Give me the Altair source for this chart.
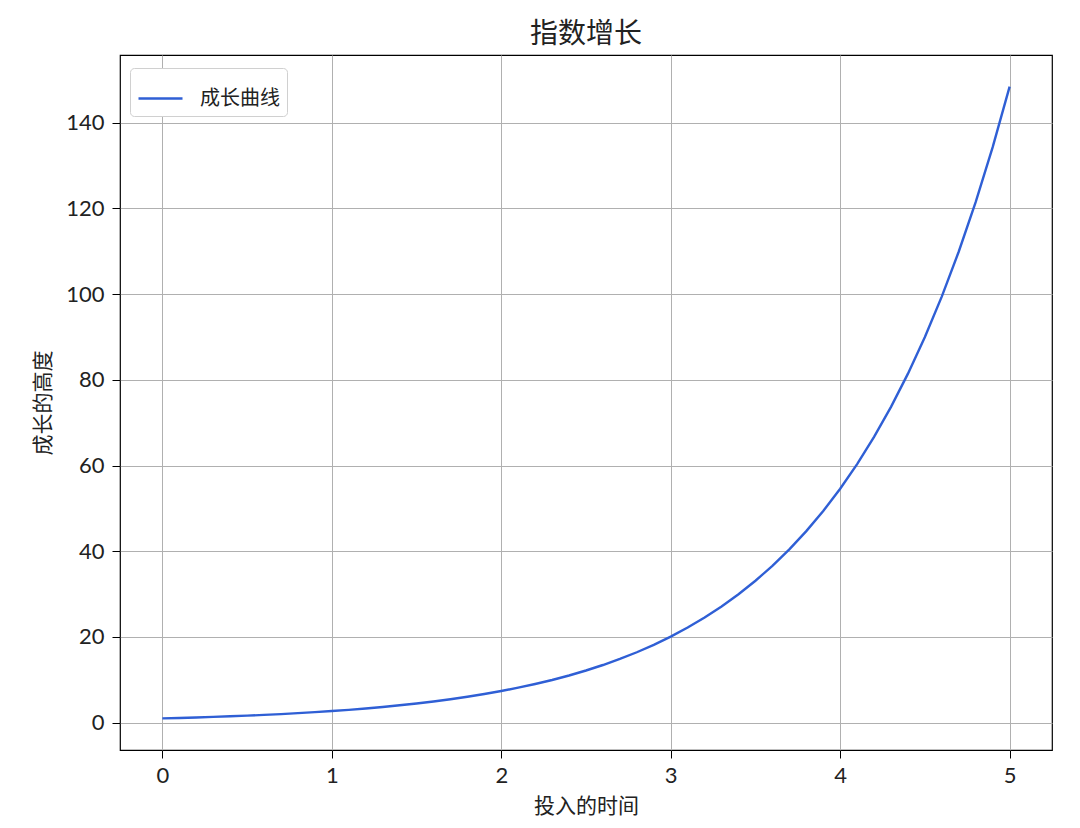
import altair as alt
import pandas as pd

# values
time_values = [round(0.1 * i, 1) for i in range(51)]
height_values = [1.00, 1.11, 1.22, 1.35, 1.49, 1.65, 1.82, 2.01, 2.23, 2.46,
                 2.72, 3.00, 3.32, 3.67, 4.06, 4.48, 4.95, 5.47, 6.05, 6.69,
                 7.39, 8.17, 9.03, 9.97, 11.02, 12.18, 13.46, 14.88, 16.44, 18.17,
                 20.09, 22.20, 24.53, 27.11, 29.96, 33.12, 36.60, 40.45, 44.70, 49.40,
                 54.60, 60.34, 66.69, 73.70, 81.45, 90.02, 99.48, 109.95, 121.51, 134.29,
                 148.41]
series_name = "成长曲线"
x_ticks = [0, 1, 2, 3, 4, 5]
y_ticks = [0, 20, 40, 60, 80, 100, 120, 140]

df = pd.DataFrame({"t": time_values, "h": height_values, "s": series_name})

FONT = "Noto Sans CJK SC"
NUM_FONT = "Lato"

chart = alt.Chart(df).mark_line(strokeWidth=2.4).encode(
    x=alt.X("t:Q", scale=alt.Scale(domain=[-0.25, 5.25], nice=False, zero=False),
            axis=alt.Axis(values=x_ticks, title="投入的时间", format="d",
                          labelPadding=7, titlePadding=9)),
    y=alt.Y("h:Q", scale=alt.Scale(domain=[-6.37, 155.8], nice=False, zero=False),
            axis=alt.Axis(values=y_ticks, title="成长的高度", format="d",
                          labelPadding=8, titlePadding=12)),
    color=alt.Color("s:N", scale=alt.Scale(range=["#2f5fd5"]),
                    legend=alt.Legend(title=None, orient="none",
                                      legendX=10, legendY=13,
                                      symbolType="stroke", symbolSize=1936,
                                      symbolStrokeWidth=2.4,
                                      strokeColor="#d0d0d0", fillColor="white",
                                      cornerRadius=4, padding=7,
                                      labelFont=FONT, labelFontSize=20,
                                      labelColor="#222222", labelOffset=16)),
).properties(
    width=932, height=695,
    title=alt.Title("指数增长", font=FONT, fontSize=28, fontWeight="normal",
                    color="#222222", offset=6),
    autosize=alt.AutoSizeParams(type="none"),
    padding={"left": 112, "top": 47, "right": 20, "bottom": 70},
).configure_view(
    stroke="black", strokeWidth=1.2
).configure_axis(
    grid=True, gridColor="#b0b0b0", gridWidth=1,
    domain=False, tickColor="black", tickSize=8, tickWidth=1,
    labelFont=NUM_FONT, labelFontSize=22, labelColor="#222222",
    titleFont=FONT, titleFontSize=21, titleFontWeight="normal", titleColor="#222222",
)

chart.save("out.html", embed_options={"renderer": "svg", "actions": False})
